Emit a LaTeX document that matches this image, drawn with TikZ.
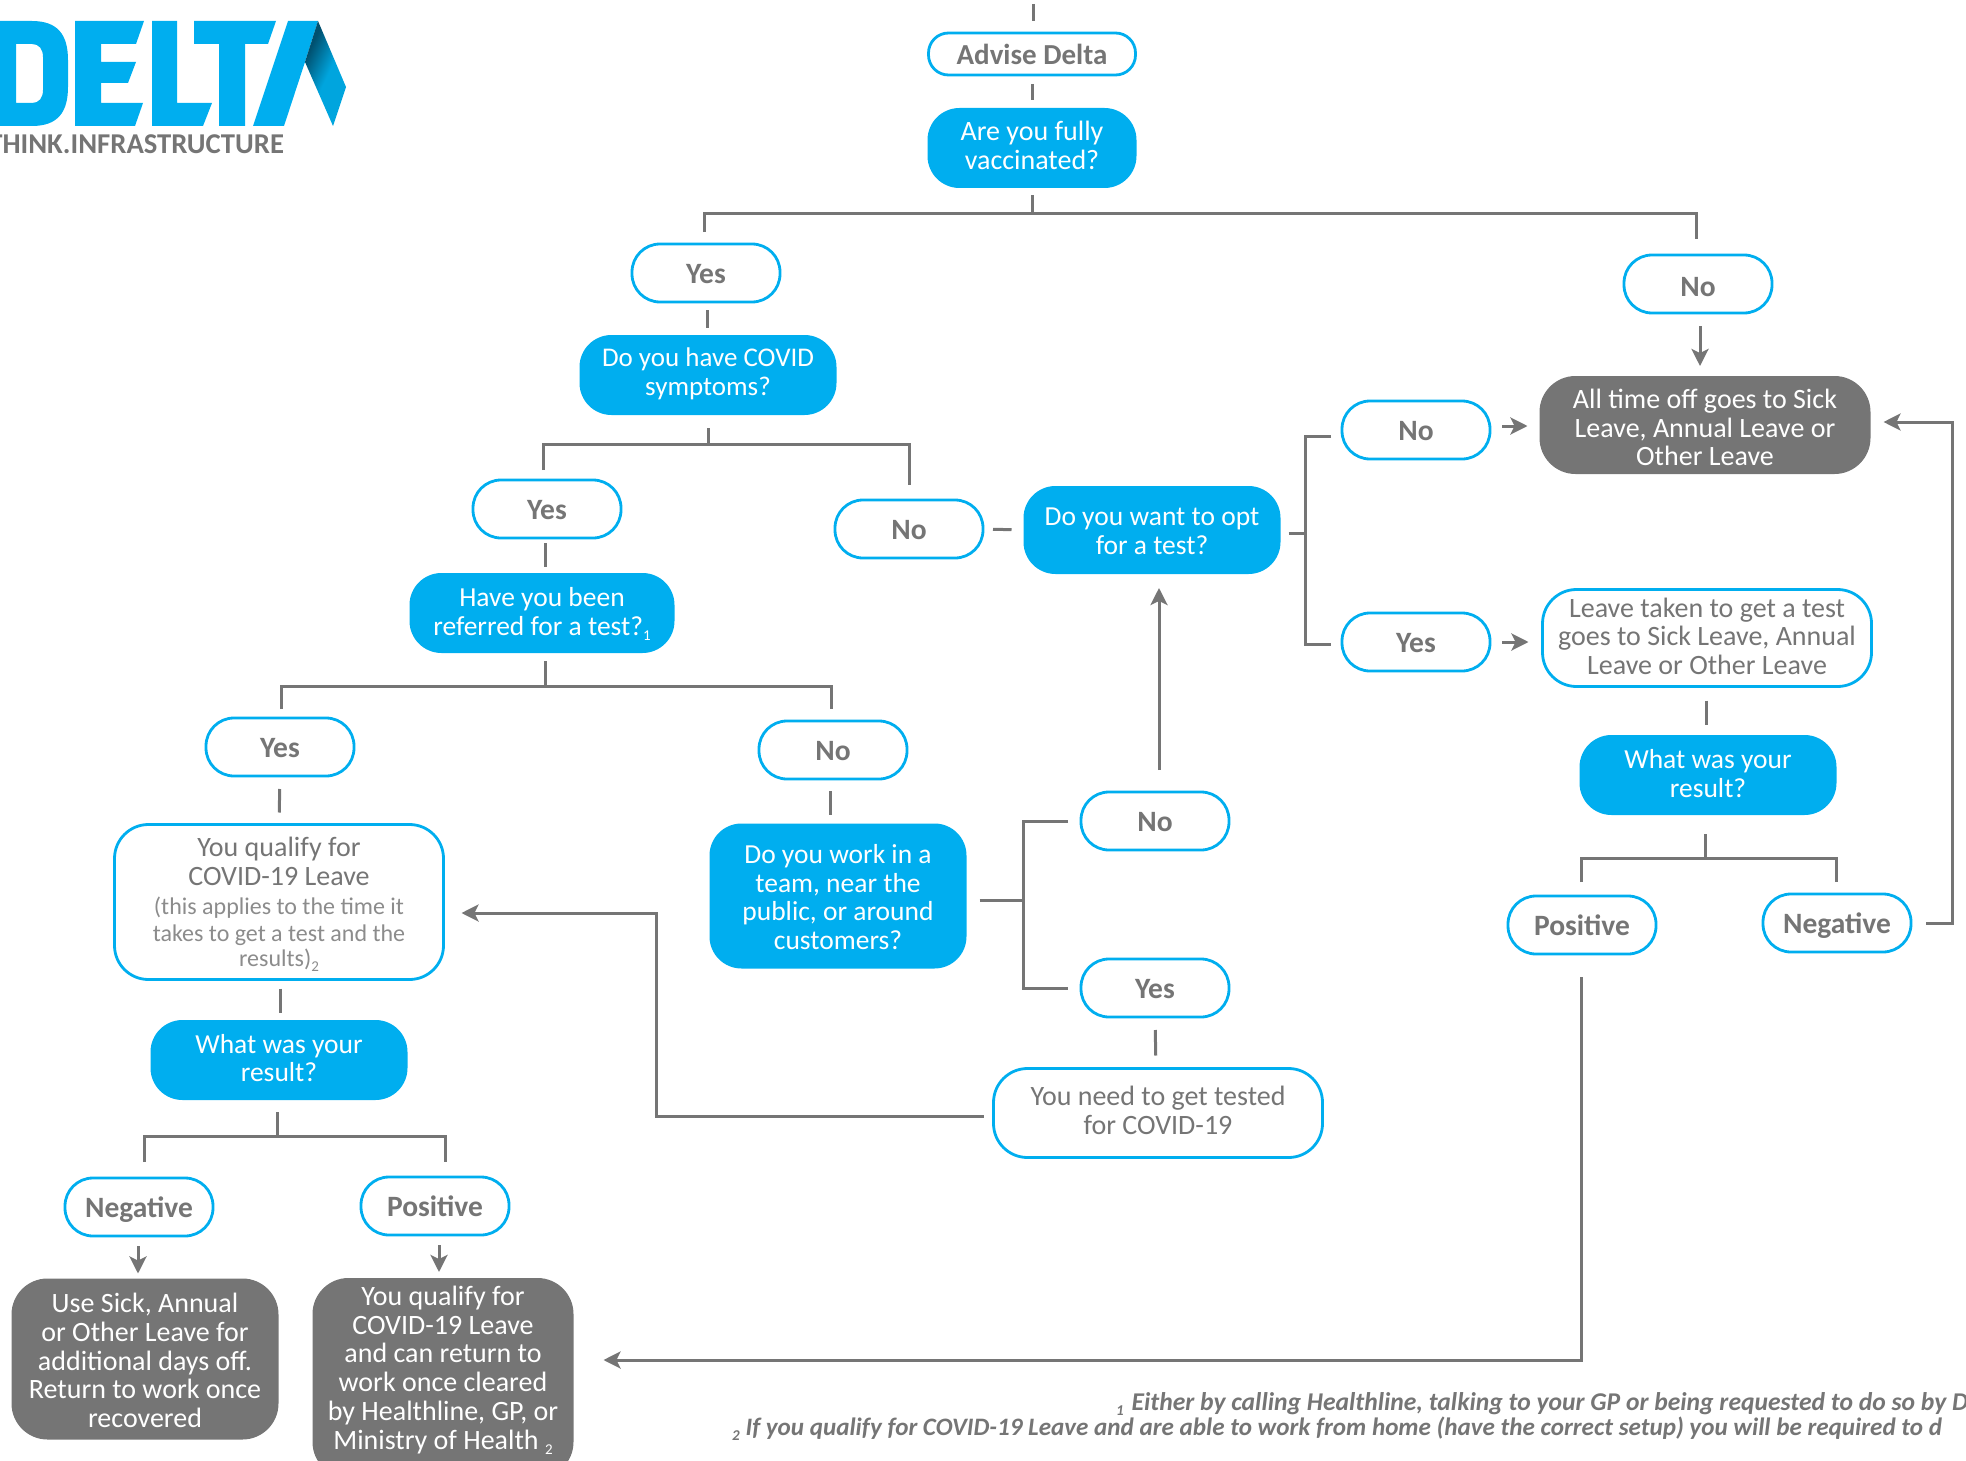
\documentclass[tikz,border=0pt]{standalone}
\usepackage{fontspec}
\setmainfont{Carlito}
\usetikzlibrary{arrows.meta}
\definecolor{dblue}{HTML}{00AEEF}
\definecolor{dgray}{HTML}{757575}
\definecolor{lgray}{HTML}{8C8C8C}
\definecolor{ribA}{HTML}{00506F}
\definecolor{ribB}{HTML}{00A5DE}
\pgfdeclarehorizontalshading{ribshade}{100bp}{color(0bp)=(ribA); color(30bp)=(ribA); color(52bp)=(ribB); color(100bp)=(ribB)}
\newcommand{\subn}[1]{\raisebox{-5pt}{\fontsize{15}{15}\selectfont #1}}
\newcommand{\tl}[1]{\rule{0pt}{#1pt}}
\tikzset{
  x=1pt,y=-1pt,
  tshift/.store in=\tshiftv, tshift=0,
  base/.style={inner sep=0pt,outer sep=0pt,align=center,font=\fontsize{28}{28.8}\selectfont,
    execute at begin node={\rule{0pt}{\dimexpr 34pt+\tshiftv pt\relax}},
    execute at end node={\rule[\dimexpr-8pt+\tshiftv pt\relax]{0pt}{\dimexpr 8pt-\tshiftv pt\relax}}},
  answer/.style={base,draw=dblue,line width=2.8pt,fill=white,text=dgray,minimum width=148pt,minimum height=58pt,rounded corners=28pt,font=\fontsize{29.5}{28.8}\selectfont\bfseries,tshift=-3},
  question/.style={base,fill=dblue,text=white,minimum width=257pt,minimum height=80pt,rounded corners=32pt,font=\fontsize{27.5}{28.8}\selectfont,tshift=-4.5},
  outcome/.style={base,fill=dgray,text=white,rounded corners=36pt},
  info/.style={base,draw=dblue,line width=2.8pt,fill=white,text=dgray,minimum width=329pt,minimum height=96pt,rounded corners=34pt},
  conn/.style={draw=dgray,line width=3pt},
  connarrow/.style={conn,-{Stealth[length=17pt,width=17pt,inset=4pt]}},
  logotext/.style={inner sep=0pt,outer sep=0pt,text=dgray,font=\fontsize{28.7}{30}\selectfont\bfseries},
  footnote/.style={inner sep=0pt,outer sep=0pt,anchor=base west,text=dgray,font=\bfseries\itshape},
}
\begin{document}
\begin{tikzpicture}
\useasboundingbox (0,0) rectangle (1966,1461);
% logo
\fill[dblue,even odd rule] (-5,21) -- (32,21) .. controls (58,21) and (68,35) .. (68,60) -- (68,87) .. controls (68,112) and (58,126) .. (32,126) -- (-5,126) -- cycle
  (16,44) -- (16,103) -- (32,103) .. controls (39,103) and (43,98) .. (43,90) -- (43,57) .. controls (43,49) and (39,44) .. (32,44) -- cycle;
\fill[dblue] (75,21) -- (144,21) -- (136,44) -- (101,44) -- (101,62) -- (136,62) -- (128,83) -- (101,83) -- (101,103) -- (143,103) -- (135,126) -- (75,126) -- cycle;
\fill[dblue] (152,21) -- (177,21) -- (177,103) -- (212,103) -- (203,126) -- (152,126) -- cycle;
\fill[dblue] (194,21) -- (276,21) -- (268,44) -- (245,44) -- (245,126) -- (219,126) -- (219,44) -- (194,44) -- cycle;
\fill[dblue] (288,21) -- (318,21) -- (305,62) -- (284,126) -- (253,126) -- cycle;
\shade[shading=ribshade,shading angle=-25] (318,21) -- (346,87) -- (333,126) -- (305,62) -- cycle;
\node[logotext,anchor=east] (logotag) at (284,144) {THINK.INFRASTRUCTURE};
% nodes
\node[answer,minimum width=207pt,minimum height=40pt,rounded corners=20pt,font=\fontsize{29}{28}\selectfont\bfseries,tshift=-2.6] (advise) at (1032,54) {Advise Delta};
\node[question,minimum width=209pt,font=\fontsize{28}{28.8}\selectfont] (vacc) at (1032,148) {\tl{26}Are you fully\\vaccinated?};
\node[answer] (yesA) at (706,273) {Yes};
\node[answer,tshift=-0.25] (noA) at (1698,284) {No};
\node[question,font=\fontsize{27}{28.8}\selectfont] (covid) at (708,375) {\tl{25}Do you have COVID\\symptoms?};
\node[answer] (yesB) at (547,509) {Yes};
\node[answer] (noB) at (909,529) {No};
\node[question,minimum width=265pt] (referred) at (542,613) {\tl{29}Have you been\\referred for a test?\subn{1}};
\node[question,minimum height=88pt,tshift=0] (want) at (1152,530) {\tl{27.5}Do you want to opt\\for a test?};
\node[answer] (noC) at (1416,430) {No};
\node[answer] (yesC) at (1416,642) {Yes};
\node[outcome,minimum width=331pt,minimum height=98pt] (alltime) at (1705,425) {\tl{32}All time off goes to Sick\\Leave, Annual Leave or\\Other Leave};
\node[info,tshift=-3.9] (leave) at (1707,638) {\tl{27.5}Leave taken to get a test\\goes to Sick Leave, Annual\\Leave or Other Leave};
\node[question] (resultR) at (1708,775) {\tl{29}What was your\\result?};
\node[answer,tshift=-2.25] (posR) at (1582,925) {Positive};
\node[answer] (negR) at (1837,923) {Negative};
\node[answer] (yesD) at (280,747) {Yes};
\node[answer] (noD) at (833,750) {No};
\node[info,minimum height=155pt,tshift=-0.75] (qualify) at (279,902) {\tl{27.5}You qualify for\\COVID-19 Leave\\[1pt]{\color{lgray}\fontsize{24}{26}\selectfont (this applies to the time it}\\[-2pt]{\color{lgray}\fontsize{24}{26}\selectfont takes to get a test and the}\\[-4pt]{\color{lgray}\fontsize{24}{26}\selectfont results)\subn{2}}};
\node[question] (resultL) at (279,1060) {\tl{27.5}What was your\\result?};
\node[question,minimum height=145pt,tshift=0] (work) at (838,896) {\tl{29}Do you work in a\\team, near the\\public, or around\\customers?};
\node[answer] (noE) at (1155,821) {No};
\node[answer] (yesE) at (1155,988) {Yes};
\node[info,minimum height=89pt,tshift=-3.25] (need) at (1158,1113) {\tl{25}You need to get tested\\for COVID-19};
\node[answer] (negL) at (139,1207) {Negative};
\node[answer] (posL) at (435,1206) {Positive};
\node[outcome,minimum width=267pt,minimum height=161pt,tshift=1] (sick) at (145,1359) {\tl{29}Use Sick, Annual\\or Other Leave for\\additional days off.\\Return to work once\\recovered};
\node[outcome,minimum width=261pt,minimum height=200pt] (qualL) at (443,1378) {\tl{25}You qualify for\\COVID-19 Leave\\and can return to\\work once cleared\\by Healthline, GP, or\\Ministry of Health \subn{2}\rule[-26.4pt]{0pt}{26.4pt}};
\node[footnote] (noteA) at (1116,1410) {\fontsize{25.6}{25.6}\selectfont\subn{1}\hspace{8pt}Either by calling Healthline, talking to your GP or being requested to do so by D};
\node[footnote] (noteB) at (732,1435) {\fontsize{25.1}{25.1}\selectfont\subn{2}\hspace{6pt}If you qualify for COVID-19 Leave and are able to work from home (have the correct setup) you will be required to d};
% junctions and free ends
\coordinate (topfree) at (1033,4);
\coordinate (jv) at (1032,213);
\coordinate (jc) at (708,444);
\coordinate (jr) at (545,686);
\coordinate (jl) at (277,1136);
\coordinate (jw) at (1023,900);
\coordinate (jo) at (1305,533);
\coordinate (jq) at (1705,858);
\coordinate (turnN) at (1952,600);
\coordinate (turnT) at (656,1000);
% connectors
\draw[conn,shorten >=12pt] (topfree) -- ([xshift=1pt]advise.north);
\draw[conn,shorten <=9pt,shorten >=8pt] (advise.south) -- (vacc.north);
\draw[conn,shorten <=7pt] (vacc.south) -- (jv);
\draw[conn,shorten <=12pt,shorten >=16pt] ([xshift=-2pt]yesA.north) |- (jv) -| ([xshift=-2pt]noA.north);
\draw[conn,shorten <=8pt,shorten >=7pt] ([xshift=1pt]yesA.south) -- ([xshift=-1pt]covid.north);
\draw[connarrow,shorten <=13pt,shorten >=10pt] ([xshift=2pt]noA.south) -- ([xshift=-5pt]alltime.north);
\draw[conn,shorten <=13pt] (covid.south) -- (jc);
\draw[conn,shorten <=10pt,shorten >=15pt] ([xshift=-4pt]yesB.north) |- (jc) -| (noB.north);
\draw[conn,shorten <=5pt,shorten >=6pt] ([xshift=-2pt]yesB.south) -- ([xshift=3pt]referred.north);
\draw[conn,shorten <=10pt,shorten >=12pt] (noB.east) -- (want.west);
\draw[conn,shorten <=8pt] ([xshift=3pt]referred.south) -- (jr);
\draw[conn,shorten <=9pt,shorten >=12pt] ([xshift=1pt]yesD.north) |- (jr) -| ([xshift=-2pt]noD.north);
\draw[conn,shorten <=13pt,shorten >=12pt] (yesD.south) -- (qualify.north);
\draw[conn,shorten <=12pt,shorten >=9pt] ([xshift=-3pt]noD.south) -- ([xshift=-8pt]work.north);
\draw[conn,shorten <=9pt,shorten >=7pt] ([xshift=1pt]qualify.south) -- ([xshift=1pt]resultL.north);
\draw[conn,shorten <=12pt] ([xshift=-2pt]resultL.south) -- (jl);
\draw[conn,shorten <=16pt,shorten >=15pt] ([xshift=5pt]negL.north) |- (jl) -| ([xshift=10pt]posL.north);
\draw[connarrow,shorten <=10pt,shorten >=5pt] ([xshift=-1pt]negL.south) -- ([xshift=-7pt]sick.north);
\draw[connarrow,shorten <=10pt,shorten >=6pt] ([xshift=4pt]posL.south) -- ([xshift=-4pt]qualL.north);
\draw[conn,shorten <=13pt] ([yshift=-4pt]work.east) -- (jw);
\draw[conn,shorten <=13pt,shorten >=13pt] (noE.west) -| (jw) |- (yesE.west);
\draw[connarrow,shorten <=22pt,shorten >=14pt] ([xshift=4pt]noE.north) -- ([xshift=7pt]want.south);
\draw[conn,shorten <=13pt,shorten >=13pt] (yesE.south) -- ([xshift=-2pt]need.north);
\draw[connarrow,shorten <=10pt,shorten >=18pt] ([yshift=-3pt]need.west) -| (turnT) |- ([yshift=-11pt]qualify.east);
\draw[conn,shorten <=8pt] ([yshift=-3pt]want.east) -- (jo);
\draw[conn,shorten <=11pt,shorten >=11pt] ([yshift=-6pt]noC.west) -| (jo) |- ([yshift=-2pt]yesC.west);
\draw[connarrow,shorten <=12pt,shorten >=12pt] ([yshift=4pt]noC.east) -- ([yshift=-1pt]alltime.west);
\draw[connarrow,shorten <=12pt,shorten >=14pt] (yesC.east) -- ([yshift=-4pt]leave.west);
\draw[conn,shorten <=14pt,shorten >=10pt] ([xshift=-1pt]leave.south) -- ([xshift=-2pt]resultR.north);
\draw[conn,shorten <=19pt] ([xshift=-3pt]resultR.south) -- (jq);
\draw[conn,shorten <=14pt,shorten >=12pt] ([xshift=-1pt]posR.north) |- (jq) -| ([xshift=-1pt]negR.north);
\draw[connarrow,shorten <=15pt,shorten >=13pt] (negR.east) -| (turnN) |- ([yshift=3pt]alltime.east);
\draw[connarrow,shorten <=23pt,shorten >=30pt] ([xshift=-1pt]posR.south) |- ([yshift=18pt]qualL.east);
\end{tikzpicture}
\end{document}
